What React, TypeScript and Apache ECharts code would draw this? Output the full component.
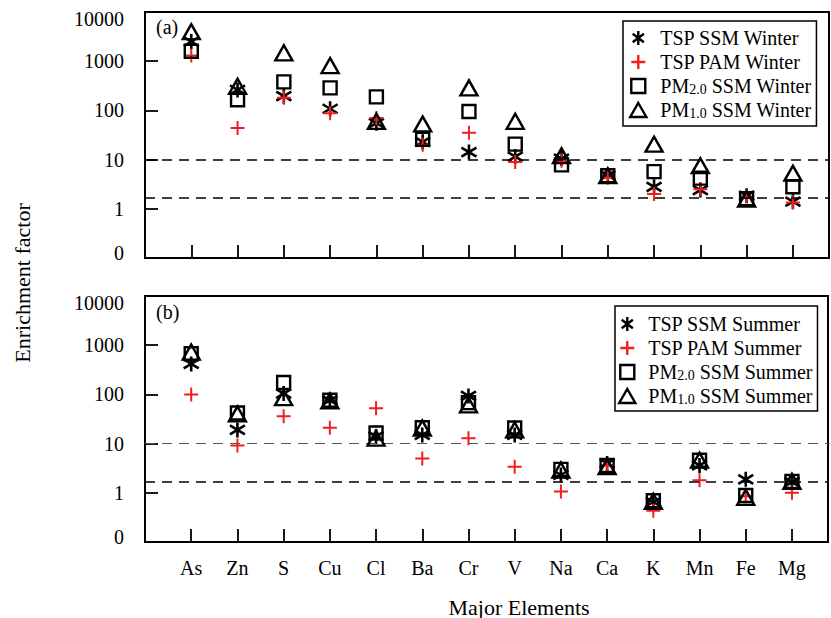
import React, { useEffect, useRef } from 'react';
import * as echarts from 'echarts';

// Elements on the shared horizontal axis (positions 1..14)
const elements = ['As', 'Zn', 'S', 'Cu', 'Cl', 'Ba', 'Cr', 'V', 'Na', 'Ca', 'K', 'Mn', 'Fe', 'Mg'];

// Enrichment factors, winter
const tspSsmWinter = [2500, 260, 195, 108, 55, 23, 14.2, 11.5, 10.5, 4.8, 2.8, 2.4, 1.85, 1.4];
const tspPamWinter = [1300, 44, 180, 88, 70, 20, 35, 8.9, 9.5, 4.3, 2.0, 2.5, 1.8, 1.35];
const pm20SsmWinter = [1590, 165, 380, 287, 188, 26, 95, 20.6, 7.8, 4.7, 5.7, 4.2, 1.6, 2.8];
const pm10SsmWinter = [3980, 309, 1480, 815, 60, 53, 287, 60, 12, 4.7, 20.6, 7.5, 1.58, 5.3];

// Enrichment factors, summer
const tspSsmSummer = [416, 19, 104, 76, 14, 15, 93, 15, 2.3, 3.95, 0.65, 3.6, 1.88, 1.65];
const tspPamSummer = [100, 9.1, 36, 21, 52, 5.0, 12.9, 3.4, 1.06, 3.6, 0.43, 1.8, 0.85, 1.0];
const pm20SsmSummer = [668, 42, 175, 76, 16.4, 21, 68, 20.7, 3.0, 3.6, 0.69, 4.6, 0.88, 1.7];
const pm10SsmSummer = [725, 40, 86, 73.5, 12.9, 20.7, 61, 19, 2.9, 3.4, 0.67, 4.6, 0.81, 1.71];

// Reference levels drawn as dashed lines
const thresholds = [10, 1.7];

const SERIF = '"Liberation Serif", "Times New Roman", serif';
const INK = '#000';
const RED = '#f01e1e';

const ASTERISK = 'path://M0,-1L0,1M-0.8,-0.6L0.8,0.6M-0.8,0.6L0.8,-0.6';
const PLUS = 'path://M0,-1L0,1M-1,0L1,0';
const SQUARE = 'path://M-1,-1L1,-1L1,1L-1,1Z';
const TRIANGLE = 'path://M0,-1L1,0.732L-1,0.732Z';

const toPoints = (vals: number[]) => vals.map((v, i) => [i + 1, v]);

type Kind = { sym: string; size: number[]; color: string; width: number };
const kinds: Kind[] = [
  { sym: ASTERISK, size: [15, 15], color: INK, width: 2.6 },
  { sym: PLUS, size: [14, 14], color: RED, width: 2 },
  { sym: SQUARE, size: [13, 13], color: INK, width: 2.4 },
  { sym: TRIANGLE, size: [17, 15], color: INK, width: 2.4 },
];

const winterNames = ['TSP SSM Winter', 'TSP PAM Winter', 'PM2.0 SSM Winter', 'PM1.0 SSM Winter'];
const summerNames = ['TSP SSM Summer', 'TSP PAM Summer', 'PM2.0 SSM Summer', 'PM1.0 SSM Summer'];
const winterData = [tspSsmWinter, tspPamWinter, pm20SsmWinter, pm10SsmWinter];
const summerData = [tspSsmSummer, tspPamSummer, pm20SsmSummer, pm10SsmSummer];

function makeSeries(names: string[], data: number[][], panel: number, thinTen: boolean) {
  return names.map((name, k) => {
    const kd = kinds[k];
    const s: any = {
      name,
      type: 'scatter',
      xAxisIndex: panel,
      yAxisIndex: panel,
      symbol: kd.sym,
      symbolSize: kd.size,
      itemStyle: { color: 'transparent', borderColor: kd.color, borderWidth: kd.width, opacity: 1 },
      emphasis: { disabled: true },
      data: toPoints(data[k]),
      z: 3 + k,
    };
    if (k === 0) {
      s.markLine = {
        silent: true,
        symbol: ['none', 'none'],
        label: { show: false },
        data: thresholds.map((t) => ({
          yAxis: t,
          lineStyle:
            t === 10 && thinTen
              ? { type: [10, 7], color: '#555', width: 1.1 }
              : { type: [10, 7], color: '#000', width: 1.6 },
        })),
      };
    }
    return s;
  });
}

function legendFor(names: string[], left: number, top: number, padding: number[], itemWidth: number) {
  return {
    data: names.map((n, k) => ({ name: n, icon: kinds[k].sym })),
    left,
    top,
    orient: 'vertical',
    padding,
    itemGap: 4,
    itemWidth,
    itemHeight: 14,
    borderColor: '#000',
    borderWidth: 1.5,
    backgroundColor: '#fff',
    selectedMode: false,
    itemStyle: { borderWidth: 2.4 },
    formatter: (name: string) => {
      const m = name.match(/^PM(\d\.\d)(.*)$/);
      return m ? `{n|PM}{s|${m[1]}}{n|${m[2]}}` : `{n|${name}}`;
    },
    textStyle: {
      fontFamily: SERIF,
      fontSize: 20,
      color: INK,
      lineHeight: 20,
      rich: {
        n: { fontFamily: SERIF, fontSize: 20, color: INK, lineHeight: 20 },
        s: { fontFamily: SERIF, fontSize: 14, color: INK, lineHeight: 14, verticalAlign: 'bottom' },
      },
    },
  };
}

function xAxisFor(panel: number) {
  return {
    gridIndex: panel,
    type: 'value',
    min: 0,
    max: 14.78,
    interval: 1,
    axisLine: { show: false },
    axisTick: { show: true, inside: true, length: 13, lineStyle: { color: '#000', width: 1.8 } },
    splitLine: { show: false },
    axisLabel: {
      show: panel === 1,
      margin: 16,
      fontFamily: SERIF,
      fontSize: 20,
      color: INK,
      formatter: (v: number) => {
        const r = Math.round(v);
        return Math.abs(v - r) < 1e-6 && r >= 1 && r <= elements.length ? elements[r - 1] : '';
      },
    },
  };
}

function yAxisFor(panel: number) {
  return {
    gridIndex: panel,
    type: 'log',
    logBase: 10,
    min: 0.1,
    max: 10000,
    axisLine: { show: false },
    axisTick: { show: true, inside: true, length: 13, lineStyle: { color: '#000', width: 1.8 } },
    minorTick: { show: false },
    splitLine: { show: false },
    axisLabel: {
      margin: 21,
      fontFamily: SERIF,
      fontSize: 20,
      color: INK,
      formatter: (v: number) => {
        if (v < 0.5) return '{lo|0}';
        if (v > 5000) return '{hi|10000}';
        return '{m|' + String(Math.round(v)) + '}';
      },
      rich: {
        lo: { fontFamily: SERIF, fontSize: 20, color: INK, padding: [0, 0, 10, 0] },
        hi: { fontFamily: SERIF, fontSize: 20, color: INK, padding: [14, 0, 0, 0] },
        m: { fontFamily: SERIF, fontSize: 20, color: INK },
      },
    },
  };
}

export default function App() {
  const ref = useRef<HTMLDivElement>(null);

  useEffect(() => {
    document.body.style.margin = '0';
    if (!ref.current) return;
    const chart = echarts.init(ref.current, undefined, { renderer: 'svg' });
    const gridBox = { left: 145, width: 684, height: 246, show: true, borderColor: '#000', borderWidth: 2, backgroundColor: 'transparent' };
    chart.setOption({
      animation: false,
      backgroundColor: '#fff',
      grid: [
        { ...gridBox, top: 12 },
        { ...gridBox, top: 296 },
      ],
      xAxis: [xAxisFor(0), xAxisFor(1)],
      yAxis: [yAxisFor(0), yAxisFor(1)],
      legend: [
        legendFor(winterNames, 623, 21, [7, 5, 6, 6], 34),
        legendFor(summerNames, 615, 306, [8, 5, 5, 3], 32),
      ],
      series: [...makeSeries(winterNames, winterData, 0, false), ...makeSeries(summerNames, summerData, 1, true)],
      graphic: [
        { type: 'text', left: 156, top: 17, style: { text: '(a)', fontFamily: SERIF, fontSize: 20, fill: INK } },
        { type: 'text', left: 156, top: 302, style: { text: '(b)', fontFamily: SERIF, fontSize: 20, fill: INK } },
        {
          type: 'text',
          x: 519,
          y: 607,
          style: { text: 'Major Elements', fontFamily: SERIF, fontSize: 22, fill: INK, align: 'center', verticalAlign: 'middle' },
        },
        {
          type: 'text',
          x: 22,
          y: 283,
          rotation: Math.PI / 2,
          style: { text: 'Enrichment factor', fontFamily: SERIF, fontSize: 22, fill: INK, align: 'center', verticalAlign: 'middle' },
        },
      ],
    });
    return () => chart.dispose();
  }, []);

  return <div ref={ref} style={{ width: 831, height: 618 }} />;
}
